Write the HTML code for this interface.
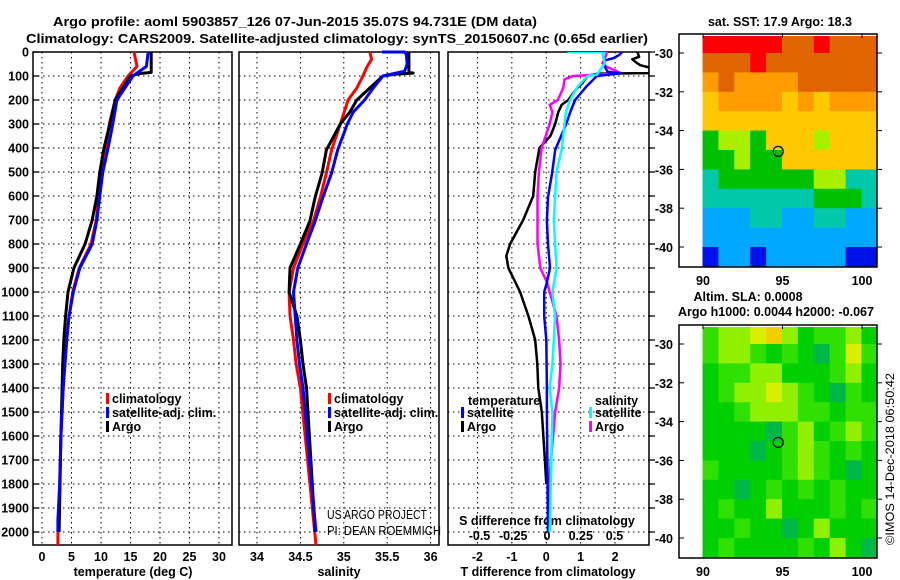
<!DOCTYPE html>
<html><head><meta charset="utf-8"><style>
html,body{margin:0;padding:0;background:#fff;}
svg{display:block;font-family:"Liberation Sans",sans-serif;}
.b{font-weight:bold;font-size:13px;}
.t{font-weight:bold;font-size:12.5px;}
</style></head><body>
<svg id="fig" width="900" height="580" viewBox="0 0 900 580" xmlns="http://www.w3.org/2000/svg">
<text x="295" y="26" text-anchor="middle" class="b" font-size="14" textLength="484" lengthAdjust="spacingAndGlyphs">Argo profile: aoml 5903857_126 07-Jun-2015 35.07S 94.731E (DM data)</text>
<text x="337" y="43" text-anchor="middle" class="b" font-size="14" textLength="622" lengthAdjust="spacingAndGlyphs">Climatology: CARS2009. Satellite-adjusted climatology: synTS_20150607.nc (0.65d earlier)</text>
<g id="plots"></g>
<text x="780" y="26" text-anchor="middle" class="t">sat. SST: 17.9 Argo: 18.3</text>
<text x="748" y="301" text-anchor="middle" class="t">Altim. SLA: 0.0008</text>
<text x="776" y="316" text-anchor="middle" class="t">Argo h1000: 0.0044 h2000: -0.067</text>
<text x="327" y="519" font-size="12.5" textLength="100" lengthAdjust="spacingAndGlyphs">US ARGO PROJECT</text>
<text x="327" y="535" font-size="12.5" textLength="114" lengthAdjust="spacingAndGlyphs">PI: DEAN ROEMMICH</text>
<text transform="translate(894,545) rotate(-90)" font-size="12" textLength="172" lengthAdjust="spacingAndGlyphs">©IMOS 14-Dec-2018 06:50:42</text>
</svg>
<script>
// ---- data ----
const tDepth=[0,85,90,100,200,300,400,500,600,700,800,900,1000,1100,1200,1300,1400,1600,2000];
const tArgo=[18.5,18.5,16.5,15.0,12.4,11.5,10.5,9.8,9.3,8.5,7.3,5.4,4.4,4.0,3.7,3.5,3.4,3.2,2.9];
const tSatDepth=[0,60,100,200,300,400,500,600,700,800,900,1000,1100,1200,1300,1400,1600,1800,1950,2000];
const tSat=[18.0,17.7,15.4,12.7,12.0,11.2,10.3,9.8,9.3,8.5,6.4,5.3,4.6,4.2,3.9,3.6,3.2,3.0,2.7,2.7];
const tClimDepth=[0,60,100,150,200,300,400,500,600,700,800,900,1000,1100,1200,1400,1600,1800,2000,2054];
const tClim=[15.6,16.1,14.6,13.2,12.4,11.4,10.8,10.2,9.6,9.2,8.3,6.3,5.2,4.6,4.1,3.6,3.2,3.0,2.7,2.7];

const sArgoDepth=[0,85,88,92,100,150,200,250,300,408,504,604,704,800,900,1000,1100,1200,1300,1400,2000];
const sArgo=[35.75,35.75,35.8,35.6,35.45,35.3,35.15,35.07,34.96,34.8,34.75,34.67,34.61,34.5,34.38,34.37,34.46,34.5,34.53,34.57,34.67];
const sSatDepth=[0,0,10,50,80,100,150,200,250,300,408,504,604,704,800,900,1000,1100,1200,1300,1400,2000];
const sSat=[35.44,35.7,35.72,35.73,35.7,35.45,35.34,35.24,35.11,35.04,34.93,34.86,34.76,34.67,34.57,34.47,34.42,34.44,34.46,34.49,34.53,34.68];
const sClimDepth=[0,30,60,100,150,200,300,408,504,604,704,800,900,1000,1100,1200,1300,1400,2054];
const sClim=[35.30,35.32,35.27,35.22,35.15,35.05,34.96,34.86,34.8,34.73,34.65,34.53,34.42,34.37,34.38,34.42,34.45,34.5,34.68];

const dTArgoDepth=[0,20,30,40,55,65,88,90,100,130,150,200,220,250,300,350,400,500,600,700,800,850,900,1000,1100,1200,1300,1400,1500,1700,1800];
const dTArgo=[2.65,2.7,2.5,2.58,2.73,3.0,3.0,1.5,1.2,1.05,0.9,0.64,0.45,0.35,0.26,0.12,-0.2,-0.32,-0.38,-0.67,-1.05,-1.16,-1.1,-0.76,-0.52,-0.32,-0.26,-0.23,-0.13,-0.04,0];
const dTSatDepth=[0,10,25,35,60,82,89,100,142,200,250,300,408,504,604,704,800,900,960,1000,1100,1200,1400,1500,2000];
const dTSat=[2.2,2.14,1.97,1.7,1.7,1.78,2.14,1.47,1.18,0.84,0.7,0.58,0.26,0.17,0.05,0.02,0.05,0.11,0.02,-0.06,-0.06,0,0.02,0.02,0.05];
const dSArgoDepth=[0,10,47,61,86,94,100,114,150,200,220,250,300,400,500,600,704,800,900,960,1000,1100,1200,1300,1400,1500,1600,1700,1800,2000];
const dSArgo=[0.44,0.44,0.41,0.44,0.54,0.39,0.19,0.13,0.12,0.08,0.02,0.04,0.02,-0.04,-0.06,-0.07,-0.07,-0.07,-0.05,0,0.02,0.07,0.09,0.1,0.09,0.06,0.045,0.03,0.015,0.02];
const dSSatDepth=[0,0,10,47,61,94,100,142,200,250,300,400,500,600,700,800,900,1000,1100,1200,1300,1400,1500,2000];
const dSSat=[0.15,0.43,0.41,0.43,0.41,0.37,0.3,0.23,0.17,0.14,0.13,0.11,0.07,0.06,0.05,0.06,0.07,0.04,0.06,0.05,0.04,0.02,0.04,0.02];

const depthTicks=[0,100,200,300,400,500,600,700,800,900,1000,1100,1200,1300,1400,1500,1600,1700,1800,1900,2000];
const tempTicks=[0,5,10,15,20,25,30];
const salTicks=[34,34.5,35,35.5,36];
const salTickLabels=["34","34.5","35","35.5","36"];
const dTTicks=[-2,-1,0,1,2];
const dSTicks=[-0.5,-0.25,0,0.25,0.5];
const dSTickLabels=["-0.5","-0.25","0","0.25","0.5"];
const mapLonTicks=[90,95,100];
const mapLatTicks=[-30,-32,-34,-36,-38,-40];
// SST classes per 1-degree cell (rows -29..-41 lat, cols 90..101 lon)
const sstGrid=[
[8,8,8,8,8,7,7,8,7,7,7],
[7,7,7,8,7,7,7,7,7,7,7],
[6,7,6,6,6,6,7,7,7,7,7],
[5,6,6,6,6,5,6,5,6,6,6],
[5,5,5,5,5,5,5,5,5,5,5],
[3,4,4,3,5,5,5,4,5,5,5],
[3,3,4,3,3,5,5,5,5,5,5],
[2,3,3,3,3,3,3,4,4,2,2],
[2,2,2,2,2,2,2,3,3,3,2],
[1,1,1,2,2,1,1,2,2,1,1],
[1,1,1,1,1,1,1,1,1,1,1],
[0,1,1,0,1,1,1,1,1,0,0]];
const slaGrid=[
[2,3,3,4,5,3,1,2,2,3,1],
[2,3,3,2,1,2,1,0,2,4,2],
[1,2,2,3,3,1,1,1,2,3,1],
[1,2,3,3,4,3,2,1,0,2,1],
[1,1,2,3,3,3,2,2,1,2,2],
[1,1,1,1,0,2,3,1,2,3,2],
[1,1,1,0,1,2,3,2,1,2,1],
[2,1,1,1,1,2,3,2,1,0,1],
[1,1,0,1,2,1,2,1,2,1,1],
[1,2,1,1,3,1,1,1,2,1,2],
[1,1,2,1,1,0,1,3,1,1,1],
[1,2,1,1,1,1,2,1,3,1,0]];
const floatLon=94.73, floatLat=-35.07;

// ---- drawing ----
const NS="http://www.w3.org/2000/svg";
const root=document.getElementById('plots');
function el(tag,attrs,parent){const e=document.createElementNS(NS,tag);for(const k in attrs)e.setAttribute(k,attrs[k]);(parent||root).appendChild(e);return e;}
const yD=d=>52+d*0.24;
const PT=0.24;
const panels=[
 {name:'temperature',x0:33,x1:232,fx:v=>42+5.9*v},
 {name:'salinity',x0:239,x1:439,fx:v=>257+86.8*(v-34)},
 {name:'difference',x0:448,x1:649,fx:v=>546.25+34.4*v}
];
const fS=v=>547+135*v;
const yBot=545;
panels.forEach((p,i)=>{
 const g=el('g',{});
 
 
 // horizontal grid
 depthTicks.forEach(d=>{
  const l=el('line',{x1:p.x0,x2:p.x1,y1:yD(d),y2:yD(d),stroke:'#000','stroke-width':1,'stroke-dasharray':'1.5 3.5'},g);
  
  
 });
 const vt = i===0?tempTicks:(i===1?salTicks:dTTicks);
 vt.forEach(v=>{
  const x=p.fx(v);
  const l=el('line',{x1:x,x2:x,y1:52,y2:yBot,stroke:'#000','stroke-width':1,'stroke-dasharray':'1.5 3.5'},g);
  
  
 });
 if(i===2){
  dSTicks.forEach(v=>{});
 }
 const fr=el('rect',{x:p.x0,y:52,width:p.x1-p.x0,height:yBot-52,fill:'none',stroke:'#000','stroke-width':1.5},g);
 
 
});
// depth tick labels and ticks
depthTicks.forEach(d=>{
 const t=el('text',{x:29,y:yD(d)+4.5,'text-anchor':'end',class:'t'});
 t.textContent=d;
 
 
 const tk=el('line',{x1:33,x2:39,y1:yD(d),y2:yD(d),stroke:'#000','stroke-width':1.3});
 
 
 const tk2=el('line',{x1:649,x2:655,y1:yD(d),y2:yD(d),stroke:'#000','stroke-width':1.3});
 
 
});
function xlabels(ticks,labels,fx,y,name){
 ticks.forEach((v,k)=>{
  const t=el('text',{x:fx(v),y:y,'text-anchor':'middle',class:'t'});
  t.textContent=labels?labels[k]:v;
  
  
 });
}
xlabels(tempTicks,null,panels[0].fx,561,'temperature-tick-label');
xlabels(salTicks,salTickLabels,panels[1].fx,561,'salinity-tick-label');
xlabels(dTTicks,null,panels[2].fx,561,'t-diff-tick-label');
xlabels(dSTicks,dSTickLabels,fS,540,'s-diff-tick-label');
[['temperature (deg C)',133,'temperature-axis-title'],['salinity',339,'salinity-axis-title'],['T difference from climatology',548,'t-diff-axis-title']].forEach(a=>{
 const t=el('text',{x:a[1],y:576,'text-anchor':'middle',class:'t'});
 t.textContent=a[0];
 
 
});
const sdt=el('text',{x:547,y:525,'text-anchor':'middle',class:'t'});
sdt.textContent='S difference from climatology';



function line(depths,vals,fx,color,name,w){
 const pts=depths.map((d,k)=>fx(vals[k]).toFixed(1)+','+yD(d).toFixed(1)).join(' ');
 const clipx=[33,232,239,439,448,649];
 const pl=el('polyline',{points:pts,fill:'none',stroke:color,'stroke-width':w||3,'stroke-linejoin':'round'});
 
 
 return pl;
}
// clip for difference panel
const defs=el('defs',{});
const cp=el('clipPath',{id:'c3'},defs);
el('rect',{x:448,y:52,width:201,height:493},cp);
line(tClimDepth,tClim,panels[0].fx,'#ff0000','temp-climatology-line');
line(tDepth,tArgo,panels[0].fx,'#000','temp-argo-line');
line(tSatDepth,tSat,panels[0].fx,'#0000ff','temp-satellite-line');
line(sClimDepth,sClim,panels[1].fx,'#ff0000','sal-climatology-line');
line(sArgoDepth,sArgo,panels[1].fx,'#000','sal-argo-line');
line(sSatDepth,sSat,panels[1].fx,'#0000ff','sal-satellite-line');
const g3=el('g',{'clip-path':'url(#c3)'});
[[dTArgoDepth,dTArgo,panels[2].fx,'#000','t-diff-argo-line'],[dSArgoDepth,dSArgo,fS,'#ff00ff','s-diff-argo-line'],[dTSatDepth,dTSat,panels[2].fx,'#0000ff','t-diff-satellite-line'],[dSSatDepth,dSSat,fS,'#00ffff','s-diff-satellite-line']].forEach(a=>{
 const pl=line(a[0],a[1],a[2],a[3],a[4],2.5); g3.appendChild(pl);
});

// legends
function legend(x,y,color,label,name){
 const r=el('rect',{x:x,y:y-10,width:3,height:11,fill:color});
 
 
 const t=el('text',{x:x+6,y:y,class:'t'});
 t.textContent=label;
 
 
}
[[106,'#ff0000','climatology'],[106,'#0000ff','satellite-adj. clim.'],[106,'#000','Argo']].forEach((a,k)=>legend(a[0],403+k*14,a[1],a[2],'temp-legend-entry'));
[[328,'#ff0000','climatology'],[328,'#0000ff','satellite-adj. clim.'],[328,'#000','Argo']].forEach((a,k)=>legend(a[0],403+k*14,a[1],a[2],'sal-legend-entry'));
const lt=el('text',{x:468,y:405,class:'t'});lt.textContent='temperature';


const ls=el('text',{x:595,y:405,class:'t'});ls.textContent='salinity';


legend(461,417,'#0000ff','satellite','diff-legend-entry');
legend(461,431,'#000','Argo','diff-legend-entry');
legend(589,417,'#00ffff','satellite','diff-legend-entry');
legend(589,431,'#ff00ff','Argo','diff-legend-entry');

// maps
const sstPal=['#0010e8','#00a8ff','#00c8a8','#00c000','#a8f000','#ffc800','#ff9c00','#e06400','#ff0000'];
const slaPal=['#00b848','#00d000','#30e000','#90f000','#d8f000','#f0d000'];
function drawMap(top,grid,pal,name,circle){
 const lonX=v=>703+15.9*(v-90);
 const latY=v=>top+19+19.4*(-30-v);
 const g=el('g',{});
 
 
 const fTop=top, fBot=top+233;
 grid.forEach((row,r)=>row.forEach((c,k)=>{
  const x0=lonX(90+k), y0=latY(-29-r);
  const x1=Math.min(lonX(91+k),877), y1=Math.min(latY(-30-r),fBot);
  const cell=el('rect',{x:x0-0.5,y:Math.max(y0,fTop+2),width:x1-x0+1,height:y1-Math.max(y0,fTop+2)+0.5,fill:pal[c]},g);
  
  
 }));
 el('rect',{x:679,y:fTop,width:198,height:fBot-fTop,fill:'none',stroke:'#000','stroke-width':1.5},g);
 mapLonTicks.forEach(v=>{
  const t=el('text',{x:lonX(v),y:fBot+18,'text-anchor':'middle',class:'t'},g);
  t.textContent=v;
  
  
  el('line',{x1:lonX(v),x2:lonX(v),y1:fTop,y2:fTop+4,stroke:'#000'},g);
 });
 mapLatTicks.forEach(v=>{
  const t=el('text',{x:673,y:latY(v)+5,'text-anchor':'end',class:'t'},g);
  t.textContent=v;
  
  
  el('line',{x1:679,x2:684,y1:latY(v),y2:latY(v),stroke:'#000'},g);
  el('line',{x1:877,x2:882,y1:latY(v),y2:latY(v),stroke:'#000'},g);
 });
 const c=el('circle',{cx:lonX(floatLon),cy:latY(floatLat),r:5,fill:'none',stroke:'#000','stroke-width':1.2},g);
 
 
}
drawMap(34,sstGrid,sstPal,'sst-map');
drawMap(325,slaGrid,slaPal,'sla-map');
</script>
</body></html>
